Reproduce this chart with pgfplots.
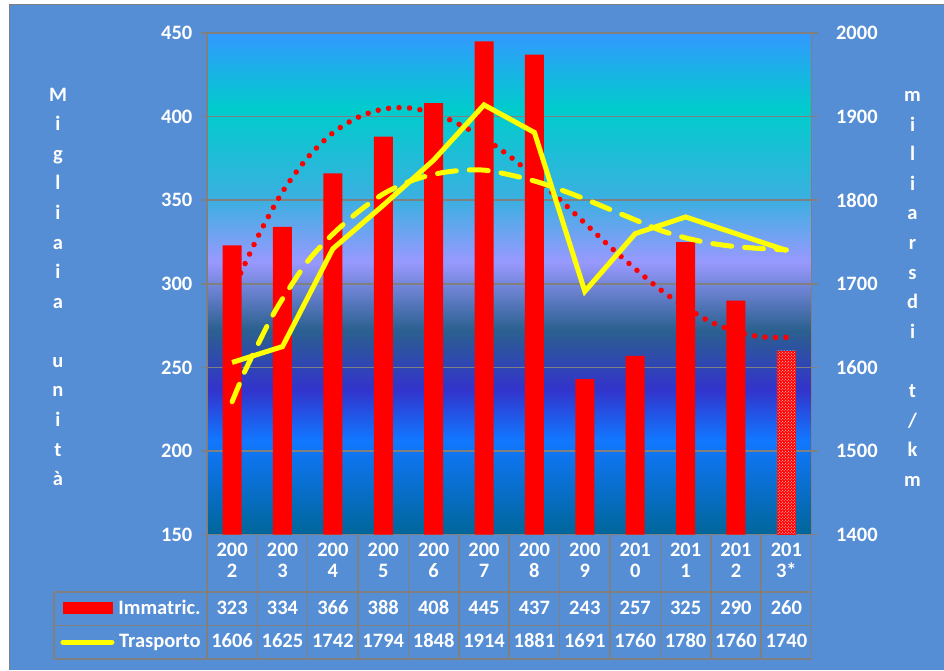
\documentclass[border=0pt]{standalone}
\usepackage{pgfplots}
\pgfplotsset{compat=1.18}
\usepackage{fontspec}
\setmainfont{Carlito}
\usetikzlibrary{patterns}

\definecolor{bgblue}{RGB}{85,142,213}
\definecolor{gridgray}{RGB}{128,128,128}
\definecolor{sh0}{RGB}{0,102,153}
\definecolor{sh1}{RGB}{17,119,255}
\definecolor{sh2}{RGB}{51,51,204}
\definecolor{sh3}{RGB}{43,96,143}
\definecolor{sh4}{RGB}{153,153,255}
\definecolor{sh5}{RGB}{60,175,225}
\definecolor{sh6}{RGB}{0,204,204}
\definecolor{sh7}{RGB}{51,153,255}
\definecolor{xlred}{RGB}{255,0,0}
\definecolor{xlyellow}{RGB}{255,255,0}

\pgfdeclareverticalshading{ocean}{100bp}{color(0bp)=(sh0); color(25bp)=(sh0); color(34.45bp)=(sh1); color(39.45bp)=(sh2); color(45.4bp)=(sh3); color(52.2bp)=(sh4); color(58.35bp)=(sh5); color(67.35bp)=(sh6); color(75bp)=(sh7); color(100bp)=(sh7)}

\newcommand{\tabfont}{\fontsize{20.5}{20.5}\selectfont\bfseries}

\begin{document}
\begin{tikzpicture}
% page and panel
\fill[white] (0pt,0pt) rectangle (944pt,670pt);
\fill[bgblue] (10pt,0pt) rectangle (944pt,665pt);
\draw[gridgray, line width=1pt] (10pt,0pt) -- (10pt,665pt) -- (944pt,665pt);

% primary axis: bars + red dotted trend
\begin{axis}[
  at={(207pt,135pt)}, anchor=south west,
  scale only axis, width=605pt, height=502pt,
  xmin=-0.5, xmax=11.5, ymin=150, ymax=450,
  xtick=\empty,
  ytick={150,200,...,450},
  ytick pos=left,
  ymajorgrids,
  grid style={gridgray, line width=1.5pt},
  axis line style={gridgray, line width=1.5pt},
  tick style={gridgray, line width=1.5pt},
  tick align=outside, major tick length=6pt,
  yticklabel style={font=\tabfont, text=white, anchor=east},
  yticklabel shift=5pt,
  /pgf/number format/assume math mode=true,
  /pgf/number format/1000 sep={},
  axis background/.style={shade, shading=ocean},
]
\addplot[ybar, bar width=19pt, bar shift=0pt, fill=xlred, draw=none]
  coordinates {(0,323)(1,334)(2,366)(3,388)(4,408)(5,445)(6,437)(7,243)(8,257)(9,325)(10,290)};
\addplot[ybar, bar width=19pt, bar shift=0pt, fill=xlred, draw=none,
  postaction={pattern=crosshatch dots, pattern color=white}]
  coordinates {(11,260)};
\addplot[xlred, line width=5.5pt, line cap=round, dash pattern=on 0pt off 10.5pt, smooth]
  coordinates {(0,295)(0.5,327.5)(1,355)(1.5,375.5)(2,390.3)(2.5,399.6)(3,404.5)(3.5,405.2)(4,402)(4.5,395.5)(5,387)(5.5,376.5)(6,364)(6.5,350.5)(7,336.3)(7.5,322.2)(8,309)(8.5,296.5)(9,286)(9.5,277.2)(10,271.5)(10.5,268.3)(11,268)};
\end{axis}

% secondary axis: yellow lines
\begin{axis}[
  at={(207pt,135pt)}, anchor=south west,
  scale only axis, width=605pt, height=502pt,
  xmin=-0.5, xmax=11.5, ymin=1400, ymax=2000,
  axis x line=none,
  axis y line*=right,
  ytick={1400,1500,...,2000},
  axis line style={gridgray, line width=1.5pt},
  tick style={gridgray, line width=1.5pt},
  tick align=outside, major tick length=6pt,
  yticklabel style={font=\tabfont, text=white, anchor=west},
  yticklabel shift=15pt,
  /pgf/number format/assume math mode=true,
  /pgf/number format/1000 sep={},
]
\addplot[xlyellow, line width=5pt, line cap=round, dash pattern=on 19pt off 13pt, smooth]
  coordinates {(0,1559)(0.25,1595)(0.5,1626)(0.75,1656)(1,1682)(1.5,1727)(2,1759.5)(2.5,1786)(3,1807.5)(3.5,1822)(4,1831)(4.5,1835.5)(5,1836)(5.5,1830.5)(6,1823)(6.5,1813)(7,1801.5)(7.5,1789)(8,1776.5)(8.5,1764)(9,1755)(9.5,1748.5)(10,1744.5)(10.5,1742.2)(11,1740.6)};
\addplot[xlyellow, line width=5pt]
  coordinates {(0,1606)(1,1625)(2,1742)(3,1794)(4,1848)(5,1914)(6,1881)(7,1691)(8,1760)(9,1780)(10,1760)(11,1740)};
\end{axis}

% axis titles (stacked letters)
\node[align=center, text=white, font=\fontsize{20.5}{29.6}\selectfont\bfseries, inner sep=0pt]
  at (58pt,383pt) {M\\i\\g\\l\\i\\a\\i\\a\\[29.6pt]u\\n\\i\\t\\à};
\node[align=center, text=white, font=\fontsize{20.5}{29.6}\selectfont\bfseries, inner sep=0pt]
  at (913pt,381pt) {m\\i\\l\\i\\a\\r\\s\\d\\i\\[29.6pt]t\\/\\k\\m};

% data table
\foreach \k in {0,...,12} {
  \draw[gridgray, line width=1.5pt] ({207pt+50.417pt*\k},135pt) -- ({207pt+50.417pt*\k},10.5pt);
}
\draw[gridgray, line width=1.5pt] (54pt,77.5pt) -- (812pt,77.5pt);
\draw[gridgray, line width=1.5pt] (54pt,44pt) -- (812pt,44pt);
\draw[gridgray, line width=1.5pt] (54pt,10.5pt) -- (812pt,10.5pt);
\draw[gridgray, line width=1.5pt] (54pt,77.5pt) -- (54pt,10.5pt);

\foreach \i/\a/\b in {0/200/2,1/200/3,2/200/4,3/200/5,4/200/6,5/200/7,6/200/8,7/200/9,8/201/0,9/201/1,10/201/2,11/201/3*} {
  \node[anchor=base, text=white, font=\tabfont, inner sep=0pt] at ({232.2pt+50.417pt*\i},113pt) {\a};
  \node[anchor=base, text=white, font=\tabfont, inner sep=0pt] at ({232.2pt+50.417pt*\i},92pt) {\b};
}
\foreach \i/\v in {0/323,1/334,2/366,3/388,4/408,5/445,6/437,7/243,8/257,9/325,10/290,11/260} {
  \node[anchor=base, text=white, font=\tabfont, inner sep=0pt] at ({232.2pt+50.417pt*\i},55pt) {\v};
}
\foreach \i/\v in {0/1606,1/1625,2/1742,3/1794,4/1848,5/1914,6/1881,7/1691,8/1760,9/1780,10/1760,11/1740} {
  \node[anchor=base, text=white, font=\tabfont, inner sep=0pt] at ({232.2pt+50.417pt*\i},21.7pt) {\v};
}

% legend keys
\fill[xlred] (62.7pt,55.3pt) rectangle (112.7pt,67.3pt);
\node[anchor=base west, text=white, font=\tabfont, inner sep=0pt] at (118.3pt,55pt) {Immatric.};
\draw[xlyellow, line width=5pt, line cap=round] (63pt,27.5pt) -- (112pt,27.5pt);
\node[anchor=base west, text=white, font=\tabfont, inner sep=0pt] at (119pt,21.7pt) {Trasporto};
\end{tikzpicture}
\end{document}
